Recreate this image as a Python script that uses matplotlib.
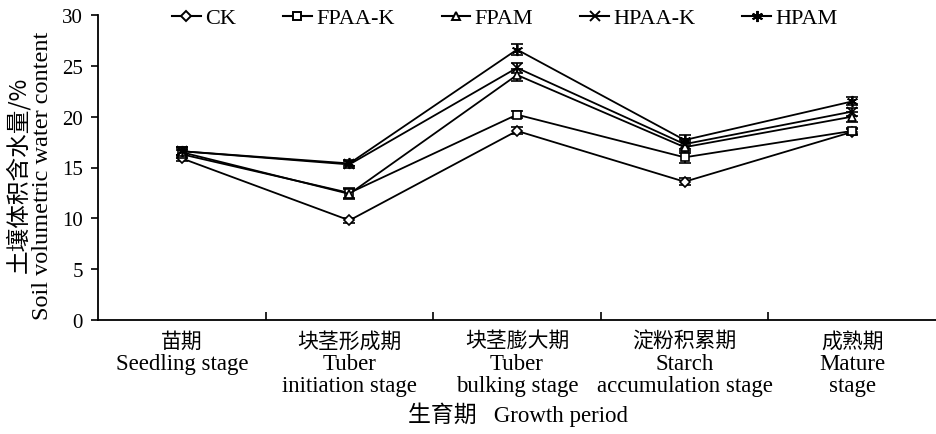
import matplotlib
matplotlib.use("Agg")
import matplotlib.pyplot as plt
import matplotlib.transforms as mtransforms
from matplotlib.lines import Line2D
import numpy as np

plt.rcParams['font.family'] = ['Liberation Serif', 'Noto Sans CJK SC']

stages_cn = ["苗期", "块茎形成期", "块茎膨大期", "淀粉积累期", "成熟期"]
stages_en = [["Seedling stage"], ["Tuber", "initiation stage"], ["Tuber", "bulking stage"],
             ["Starch", "accumulation stage"], ["Mature", "stage"]]

series_names = ["CK", "FPAA-K", "FPAM", "HPAA-K", "HPAM"]
ck = [15.9, 9.8, 18.6, 13.6, 18.5]
fpaak = [16.3, 12.5, 20.2, 16.0, 18.6]
fpam = [16.5, 12.4, 24.1, 17.0, 20.0]
hpaak = [16.6, 15.3, 24.8, 17.3, 20.5]
hpam = [16.6, 15.4, 26.6, 17.7, 21.5]

ck_err = [0.3, 0.25, 0.35, 0.35, 0.3]
fpaak_err = [0.4, 0.5, 0.35, 0.6, 0.3]
fpam_err = [0.4, 0.5, 0.6, 0.6, 0.5]
hpaak_err = [0.4, 0.3, 0.5, 0.5, 0.4]
hpam_err = [0.4, 0.3, 0.5, 0.5, 0.4]

values = [ck, fpaak, fpam, hpaak, hpam]
errors = [ck_err, fpaak_err, fpam_err, hpaak_err, hpam_err]
markers = ['D', 's', '^', 'x', (6, 2, 0)]
msizes = [5, 6, 6, 7, 8]

W, H = 936, 435
fig = plt.figure(figsize=(W / 100, H / 100), dpi=100)
ax = fig.add_axes([98 / W, 1 - 321 / H, 1 - 98 / W, (321 - 16) / H])

x = np.arange(len(stages_cn))
handles = []
for name, v, e, m, ms in zip(series_names, values, errors, markers, msizes):
    mfc = 'white' if m in ('D', 's', '^') else 'black'
    ax.errorbar(x, v, yerr=e, color='black', lw=1.3, marker=m, ms=ms,
                mfc=mfc, mec='black', mew=1.2, capsize=4, capthick=1.3,
                elinewidth=1.3)
    handles.append(Line2D([], [], color='black', lw=1.5, marker=m, ms=ms,
                          mfc=mfc, mec='black', mew=1.4, label=name))

ax.set_xlim(-0.5, 4.5)
ax.set_ylim(0, 30)
ax.set_yticks([0, 5, 10, 15, 20, 25, 30])
ax.tick_params(axis='y', direction='out', length=5, width=1.2, labelsize=15, pad=6)

ax.set_xticks(np.arange(0.5, 4.5, 1.0))
ax.set_xticklabels([])
ax.tick_params(axis='x', which='major', direction='in', length=6, width=1.2)

for s in ['top', 'right']:
    ax.spines[s].set_visible(False)
ax.spines['left'].set_linewidth(1.3)
ax.spines['bottom'].set_linewidth(1.3)

trans = mtransforms.blended_transform_factory(ax.transData, fig.transFigure)
for i, (cn, en) in enumerate(zip(stages_cn, stages_en)):
    ax.text(i, 1 - 342 / H, cn, transform=trans, ha='center', va='center',
            fontsize=15, family=['Noto Sans CJK SC'])
    for j, line in enumerate(en):
        ax.text(i, 1 - (365 + 22 * j) / H, line, transform=trans, ha='center',
                va='center', fontsize=16.5)

fig.text(0.5 * (98 + 938) / W, 1 - 415 / H, "生育期   Growth period", ha='center',
         va='center', fontsize=16.5)

fig.text(18 / W, 1 - 175 / H, "土壤体积含水量/%", rotation=90, ha='center', va='center',
         fontsize=17, family=['Noto Sans CJK SC', 'Liberation Serif'])
fig.text(43 / W, 1 - 176 / H, "Soil volumetric water content", rotation=90,
         ha='center', va='center', fontsize=17.5)

leg = fig.legend(handles=handles, loc='center left', bbox_to_anchor=(172 / W, 1 - 19 / H),
                 ncol=5, frameon=False, fontsize=16, handlelength=1.3,
                 handletextpad=0.2, columnspacing=2.1, borderpad=0, borderaxespad=0)

fig.savefig("out.png", dpi=100)
